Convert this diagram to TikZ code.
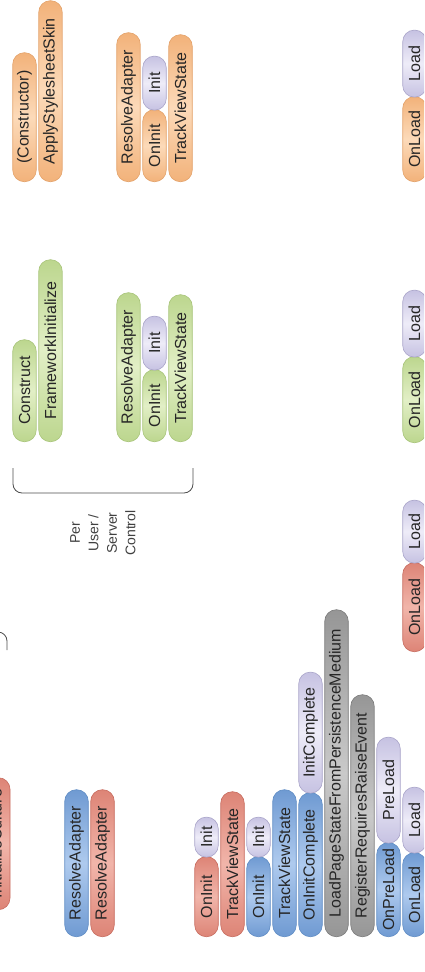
\documentclass[tikz,border=0pt]{standalone}
\usepackage{fontspec}
\setmainfont{Liberation Sans}
\definecolor{orangeD}{HTML}{E3A26A}
\definecolor{orangeE}{HTML}{F2B27A}
\definecolor{orangeM}{HTML}{FCDAB9}
\definecolor{greenD}{HTML}{A8C47A}
\definecolor{greenE}{HTML}{BCD68E}
\definecolor{greenM}{HTML}{E2EFC6}
\definecolor{redD}{HTML}{C76B5E}
\definecolor{redE}{HTML}{DD8476}
\definecolor{redM}{HTML}{F1B5AA}
\definecolor{blueD}{HTML}{5F8CC4}
\definecolor{blueE}{HTML}{6F9AD2}
\definecolor{blueM}{HTML}{AECAEE}
\definecolor{lilacD}{HTML}{A9A4C9}
\definecolor{lilacE}{HTML}{C6C2E2}
\definecolor{lilacM}{HTML}{EEECF8}
\definecolor{grayD}{HTML}{7A7A7A}
\definecolor{grayE}{HTML}{969696}
\definecolor{grayM}{HTML}{C9C9C9}
\tikzset{
    pill/.style={rectangle, rounded corners=11.5pt, rotate=90, anchor=west, minimum height=23.5pt,
        inner xsep=3pt, inner ysep=0pt, line width=0.6pt, text=black!85,
        font=\fontsize{16}{19}\selectfont},
    orangepill/.style={pill, draw=orangeD, top color=orangeE, bottom color=orangeE, middle color=orangeM},
    greenpill/.style={pill, draw=greenD, top color=greenE, bottom color=greenE, middle color=greenM},
    redpill/.style={pill, draw=redD, top color=redE, bottom color=redE, middle color=redM},
    bluepill/.style={pill, draw=blueD, top color=blueE, bottom color=blueE, middle color=blueM},
    lilacpill/.style={pill, draw=lilacD, top color=lilacE, bottom color=lilacE, middle color=lilacM},
    graypill/.style={pill, draw=grayD, top color=grayE, bottom color=grayE, middle color=grayM},
    bracket/.style={draw=black!70, line width=0.8pt, rounded corners=9pt}
}

\begin{document}
\begin{tikzpicture}[x=1pt, y=1pt]
    \useasboundingbox (0, 0) rectangle (424, -972);
    \clip (0, 0) rectangle (424, -972);
    \node[orangepill, minimum width=129pt](oConstructor) at (24.5, -182){(Constructor)};
    \node[orangepill, minimum width=181pt](oApplySkin) at (50.5, -182){ApplyStylesheetSkin};
    \node[orangepill, minimum width=149pt](oResolve) at (128.5, -182){ResolveAdapter};
    \node[orangepill, minimum width=72pt](oOnInit) at (154.5, -182){OnInit};
    \node[lilacpill, minimum width=54pt](oInit) at ([yshift=-1pt]oOnInit.east){Init};
    \node[orangepill, minimum width=147pt](oTrack) at (180.5, -182){TrackViewState};
    \node[orangepill, minimum width=85pt](oOnLoad) at (414.5, -182){OnLoad};
    \node[lilacpill, minimum width=67pt](oLoad) at ([yshift=-1pt]oOnLoad.east){Load};

    \node[greenpill, minimum width=102pt](gConstruct) at (24.5, -442){Construct};
    \node[greenpill, minimum width=182pt](gFramework) at (50.5, -442){FrameworkInitialize};
    \node[greenpill, minimum width=149pt](gResolve) at (128.5, -442){ResolveAdapter};
    \node[greenpill, minimum width=72pt](gOnInit) at (154.5, -442){OnInit};
    \node[lilacpill, minimum width=54pt](gInit) at ([yshift=-1pt]gOnInit.east){Init};
    \node[greenpill, minimum width=147pt](gTrack) at (180.5, -442){TrackViewState};
    \node[greenpill, minimum width=86pt](gOnLoad) at (414.5, -443){OnLoad};
    \node[lilacpill, minimum width=67pt](gLoad) at ([yshift=-1pt]gOnLoad.east){Load};

    \coordinate (brA) at (13, -468);
    \coordinate (brB) at (193, -468);
    \draw[bracket](brA)--(13, -493)--(193, -493)--(brB);
    \node[rotate=90, align=center, text=black!75, font=\fontsize{14}{18.5}\selectfont](perCtrl)
        at (103, -533){Per\\User /\\Server\\Control};

    \node[redpill, minimum width=89pt](rOnLoad) at (414.5, -652){OnLoad};
    \node[lilacpill, minimum width=63pt](rLoad) at ([yshift=-1pt]rOnLoad.east){Load};

    \coordinate (brC) at (7, -650);
    \draw[bracket](brC)--(7, -632)--(-200, -632);

    \node[redpill, minimum width=132pt, minimum height=28pt](rCulture) at (-4, -910){InitializeCulture};
    \node[bluepill, minimum width=147pt](bResolve) at (76.5, -937){ResolveAdapter};
    \node[redpill, minimum width=147pt](rResolve) at (102.5, -937){ResolveAdapter};
    \node[redpill, minimum width=80pt](rOnInit) at (206.5, -937){OnInit};
    \node[lilacpill, minimum width=40pt](rInit) at ([yshift=-1pt]rOnInit.east){Init};
    \node[redpill, minimum width=145pt](rTrack) at (232.5, -937){TrackViewState};
    \node[bluepill, minimum width=80pt](bOnInit) at (258.5, -937){OnInit};
    \node[lilacpill, minimum width=40pt](bInit) at ([yshift=-1pt]bOnInit.east){Init};
    \node[bluepill, minimum width=147pt](bTrack) at (284.5, -937){TrackViewState};
    \node[bluepill, minimum width=144pt](bOnInitComplete) at (310.5, -937){OnInitComplete};
    \node[lilacpill, minimum width=121pt](bInitComplete) at ([yshift=-1pt]bOnInitComplete.east){InitComplete};
    \node[graypill, minimum width=327pt](gLoadPageState) at (336.5, -937){LoadPageStateFromPersistenceMedium};
    \node[graypill, minimum width=242pt](gRegister) at (362.5, -937){RegisterRequiresRaiseEvent};
    \node[bluepill, minimum width=94pt](bOnPreLoad) at (388.5, -937){OnPreLoad};
    \node[lilacpill, minimum width=106pt](bPreLoad) at ([yshift=-1pt]bOnPreLoad.east){PreLoad};
    \node[bluepill, minimum width=84pt](bOnLoad) at (414.5, -937){OnLoad};
    \node[lilacpill, minimum width=66pt](bLoad) at ([yshift=-1pt]bOnLoad.east){Load};
\end{tikzpicture}
\end{document}
